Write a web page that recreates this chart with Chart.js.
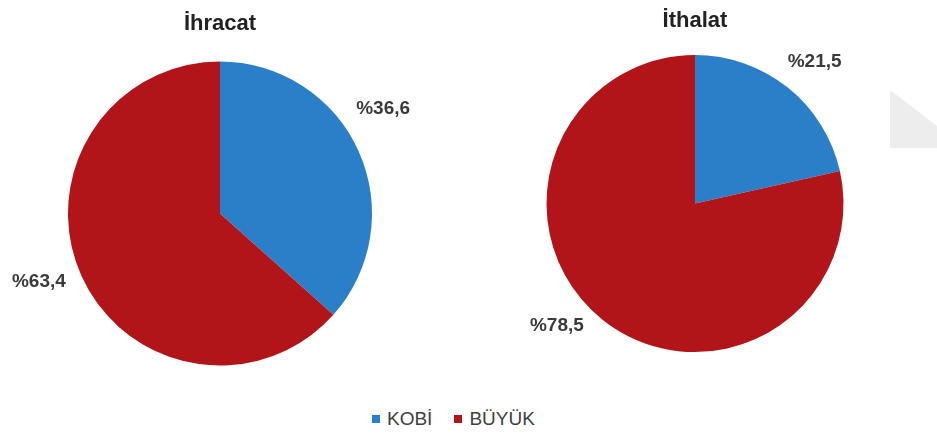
<!DOCTYPE html>
<html>
<head>
<meta charset="utf-8">
<script src="https://cdn.jsdelivr.net/npm/chart.js@4/dist/chart.umd.min.js"></script>
<style>
  html, body { margin: 0; padding: 0; background: #ffffff; }
  #wrap { position: relative; width: 937px; height: 434px; overflow: hidden; background: #fff; }
  .box { position: absolute; top: 0; }
  #legend { position: absolute; left: 372px; top: 408px; display: flex; justify-content: flex-start;
            font-family: "Liberation Sans", Arial, sans-serif; font-size: 19px; color: #404040; }
  .item { display: flex; align-items: center; margin-right: 22px; }
  .sw { width: 8px; height: 8px; margin-right: 7px; }
  #wm { position: absolute; left: 890px; top: 90px; width: 47px; height: 58px; background: #ededed;
        clip-path: polygon(0 0, 100% 62%, 100% 100%, 0 100%); }
</style>
</head>
<body>
<div id="wrap">
  <div id="wm"></div>
  <div class="box" style="left:0;width:460px;height:400px;"><canvas id="c1" width="460" height="400"></canvas></div>
  <div class="box" style="left:470px;width:467px;height:400px;"><canvas id="c2" width="467" height="400"></canvas></div>
  <div id="legend"></div>
</div>
<script>
const categories = ["KOBİ", "BÜYÜK"];
const chartTitles = ["İhracat", "İthalat"];
const exportValues = [36.6, 63.4];
const importValues = [21.5, 78.5];
const colors = ["#2b7fc9", "#b21519"];

function fmt(v) { return "%" + v.toFixed(1).replace(".", ","); }

const outsideLabels = {
  id: "outsideLabels",
  afterDatasetsDraw(chart, args, opts) {
    const ctx = chart.ctx;
    const meta = chart.getDatasetMeta(0);
    const data = chart.data.datasets[0].data;
    ctx.save();
    ctx.font = "bold 19px 'Liberation Sans', Arial, sans-serif";
    ctx.fillStyle = "#3a3a3a";
    ctx.textAlign = "center";
    ctx.textBaseline = "middle";
    meta.data.forEach((arc, i) => {
      const p = arc.getProps(["x", "y", "startAngle", "endAngle", "outerRadius"], true);
      const mid = (p.startAngle + p.endAngle) / 2;
      const r = p.outerRadius + opts.distance;
      const n = opts.nudge[i] || [0, 0];
      ctx.fillText(fmt(data[i]), p.x + Math.cos(mid) * r + n[0], p.y + Math.sin(mid) * r + n[1]);
    });
    ctx.restore();
  }
};

function makePie(id, title, values, pad, titlePad, nudge) {
  return new Chart(document.getElementById(id), {
    type: "pie",
    data: {
      labels: categories,
      datasets: [{ data: values, backgroundColor: colors, borderWidth: 0 }]
    },
    options: {
      responsive: false,
      animation: false,
      layout: { padding: pad },
      plugins: {
        legend: { display: false },
        tooltip: { enabled: false },
        title: {
          display: true, text: title, color: "#222222",
          font: { family: "'Liberation Sans', Arial, sans-serif", size: 22, weight: "bold", lineHeight: 1.2 },
          padding: titlePad
        },
        outsideLabels: { distance: 30, nudge: nudge }
      }
    },
    plugins: [outsideLabels]
  });
}

makePie("c1", chartTitles[0], exportValues,
  { left: 68, right: 88, top: 0, bottom: 34.5 }, { top: 10.5, bottom: 24.6 },
  [[-3, -30], [-15, -6.5]]);
makePie("c2", chartTitles[1], importValues,
  { left: 76.5, right: 93.5, top: 0, bottom: 48 }, { top: 7.5, bottom: 21.1 },
  [[8, -2.5], [-26.5, -17]]);

const lg = document.getElementById("legend");
categories.forEach((c, i) => {
  const it = document.createElement("div");
  it.className = "item";
  const sw = document.createElement("span");
  sw.className = "sw"; sw.style.background = colors[i];
  const tx = document.createElement("span");
  tx.textContent = c;
  it.appendChild(sw); it.appendChild(tx);
  lg.appendChild(it);
});
</script>
</body>
</html>
